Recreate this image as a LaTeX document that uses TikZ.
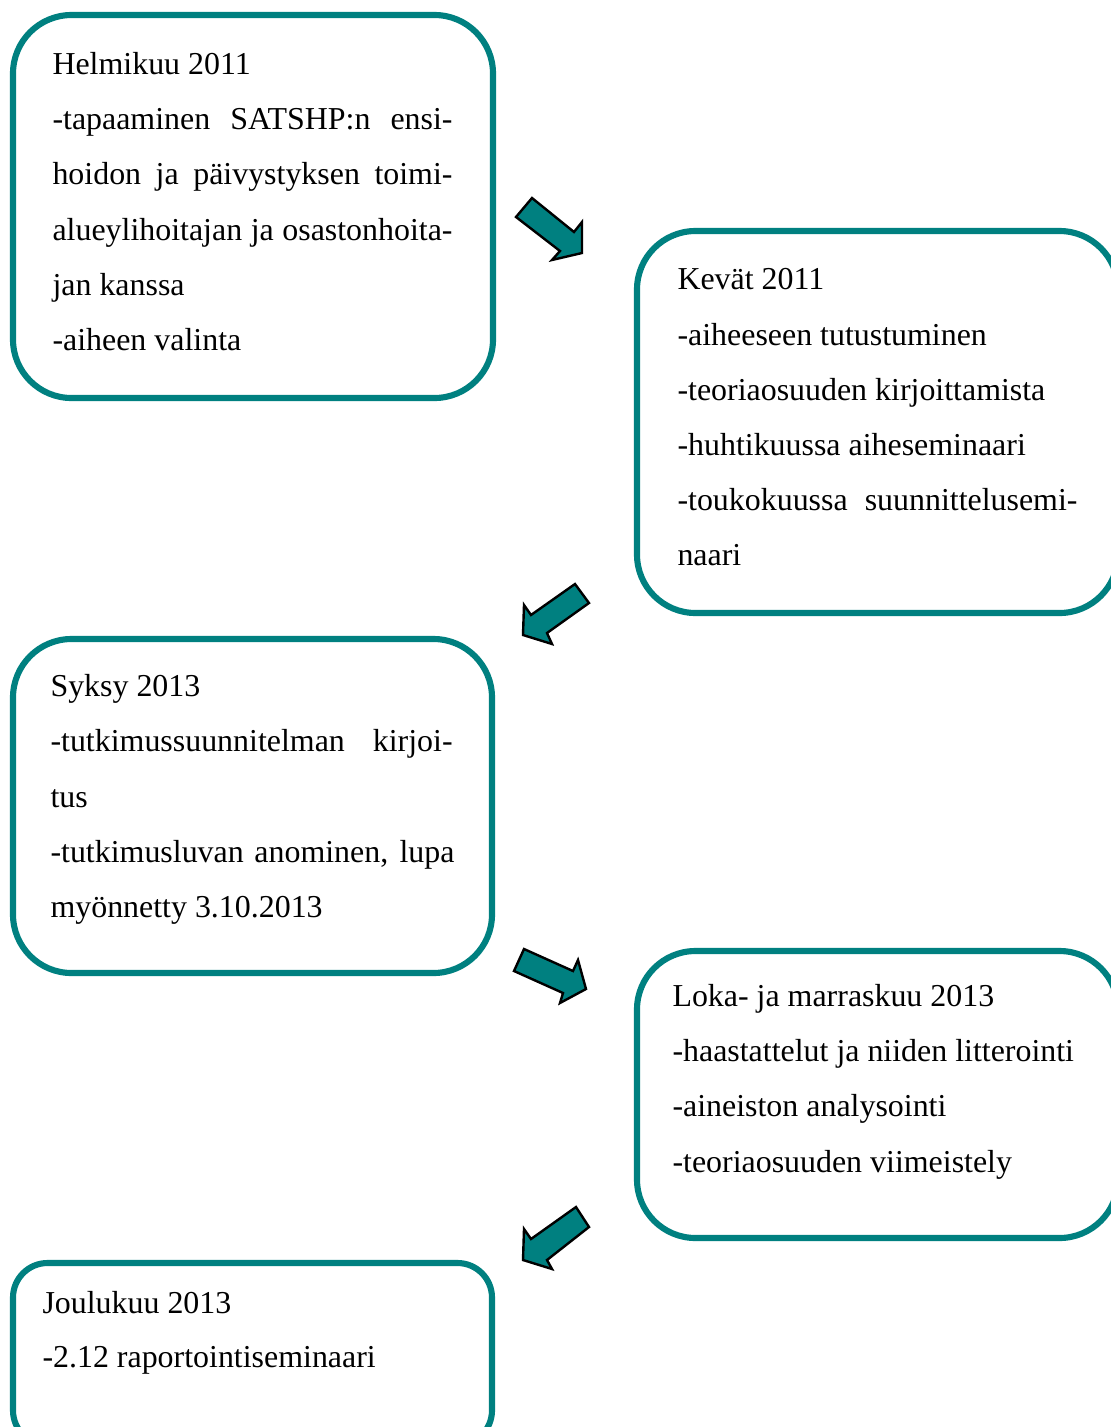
\documentclass[tikz,border=0pt]{standalone}
\usepackage{fontspec}
\setmainfont{Liberation Serif}
\definecolor{tealc}{RGB}{0,128,128}
\tikzset{
  boxline/.style={draw=tealc, line width=2.3pt, rounded corners=22pt},
  boxlinesmall/.style={draw=tealc, line width=2.3pt, rounded corners=13pt},
  txt/.style={anchor=base west, inner sep=0pt, font=\fontsize{12}{14}\selectfont},
  blockarrow/.style={fill=tealc, draw=black, line width=0.9pt, line join=miter},
}
\newcommand{\jline}[1]{\makebox[150.4pt][s]{#1}}
\begin{document}
\begin{tikzpicture}[x=0.376pt,y=-0.376pt]
\useasboundingbox (0,0) rectangle (1111,1427);
\clip (0,0) rectangle (1111,1427);
% boxes
\draw[boxline] (13,15) rectangle (493,398);
\draw[boxline] (637,231) rectangle (1118,613);
\draw[boxline] (13,639) rectangle (492,973);
\draw[boxline] (637,951) rectangle (1118,1238);
\draw[boxlinesmall] (13,1263) rectangle (492,1445);
% box 1 text
\node[txt] (a1) at (52,74) {Helmikuu 2011};
\node[txt] (a2) at (52,129) {\jline{-tapaaminen SATSHP:n ensi-}};
\node[txt] (a3) at (52,184) {\jline{hoidon ja päivystyksen toimi-}};
\node[txt] (a4) at (52,240) {\jline{alueylihoitajan ja osastonhoita-}};
\node[txt] (a5) at (52,295) {jan kanssa};
\node[txt] (a6) at (52,350) {-aiheen valinta};
% box 2 text
\node[txt] (b1) at (677,289) {Kevät 2011};
\node[txt] (b2) at (677,345) {-aiheeseen tutustuminen};
\node[txt] (b3) at (677,400) {-teoriaosuuden kirjoittamista};
\node[txt] (b4) at (677,455) {-huhtikuussa aiheseminaari};
\node[txt] (b5) at (677,510) {\jline{-toukokuussa suunnittelusemi-}};
\node[txt] (b6) at (677,565) {naari};
% box 3 text
\node[txt] (c1) at (50,696) {Syksy 2013};
\node[txt] (c2) at (50,751) {\makebox[151.2pt][s]{-tutkimussuunnitelman kirjoi-}};
\node[txt] (c3) at (50,807) {tus};
\node[txt] (c4) at (50,862) {\makebox[151.9pt][s]{-tutkimusluvan anominen, lupa}};
\node[txt] (c5) at (50,917) {myönnetty 3.10.2013};
% box 4 text
\node[txt] (d1) at (672,1006) {Loka- ja marraskuu 2013};
\node[txt] (d2) at (672,1061) {-haastattelut ja niiden litterointi};
\node[txt] (d3) at (672,1116) {-aineiston analysointi};
\node[txt] (d4) at (672,1172) {-teoriaosuuden viimeistely};
% box 5 text
\node[txt] (e1) at (42,1313) {Joulukuu 2013};
\node[txt] (e2) at (42,1367) {-2.12 raportointiseminaari};
% arrows
\draw[blockarrow] (532,198) -- (574,232) -- (582,222) -- (582,253) -- (552,260) -- (560,251) -- (516,217) -- cycle;
\draw[blockarrow] (575,584) -- (589,603) -- (547,633) -- (552,644) -- (523,635) -- (524,605) -- (531,615) -- cycle;
\draw[blockarrow] (524,949) -- (573,971) -- (578,960) -- (586,989) -- (560,1003) -- (563,993) -- (514,971) -- cycle;
\draw[blockarrow] (576,1207) -- (589,1227) -- (547,1260) -- (552,1269) -- (523,1260) -- (524,1229) -- (531,1239) -- cycle;
\end{tikzpicture}
\end{document}
